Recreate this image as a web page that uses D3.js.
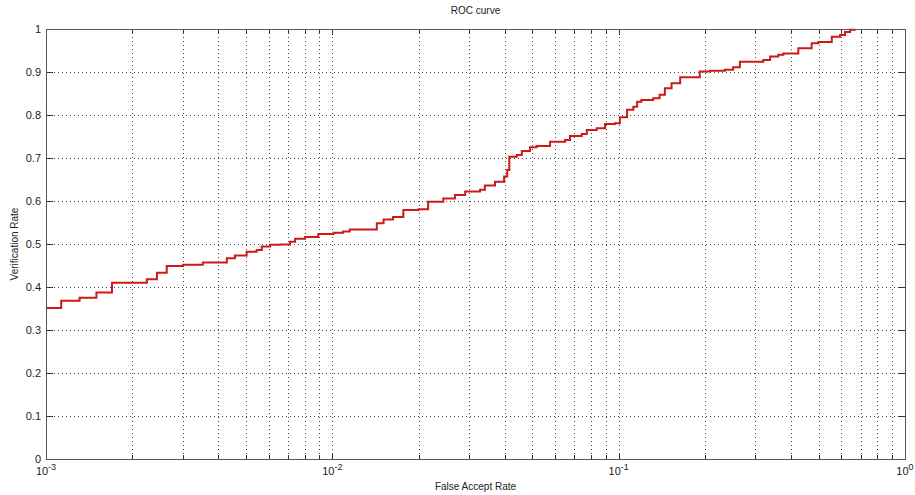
<!DOCTYPE html>
<html>
<head>
    <title>ROC curve</title>
    <script src="https://cdnjs.cloudflare.com/ajax/libs/d3/7.8.5/d3.min.js"></script>
    <style>
        body {
            background: #ffffff;
            margin: 0;
            overflow: hidden;
        }
        text {
            font-family: "Liberation Sans", Arial, sans-serif;
            fill: #222;
        }
        .grid line {
            stroke: #444;
            stroke-width: 1px;
            stroke-dasharray: 1,3;
        }
        .frame {
            fill: none;
            stroke: #555;
            stroke-width: 1px;
        }
        .tick-mark {
            stroke: #333;
            stroke-width: 1px;
        }
        .roc {
            fill: none;
            stroke: #cc1a1a;
            stroke-width: 2px;
        }
    </style>
</head>
<body>
    <svg id="chart"></svg>

    <script>
        // values
        const farValues = [0.001, 0.00113, 0.00131, 0.0015, 0.0017, 0.00225, 0.00244, 0.00264, 0.00301, 0.00353,
            0.00428, 0.00457, 0.00502, 0.00544, 0.00567, 0.00606, 0.00657, 0.00712, 0.00741, 0.00803,
            0.00893, 0.0101, 0.0109, 0.0115, 0.0143, 0.0151, 0.0163, 0.0177, 0.02, 0.0216,
            0.0244, 0.0268, 0.0291, 0.0328, 0.0341, 0.037, 0.0398, 0.0408, 0.0415, 0.0441,
            0.0459, 0.049, 0.0517, 0.0576, 0.065, 0.0676, 0.0743, 0.0774, 0.0838, 0.0896,
            0.0971, 0.101, 0.107, 0.1125, 0.116, 0.12, 0.132, 0.139, 0.145, 0.153,
            0.164, 0.192, 0.208, 0.235, 0.251, 0.265, 0.32, 0.338, 0.361, 0.376,
            0.424, 0.472, 0.498, 0.555, 0.593, 0.617, 0.643, 0.669];
        const verificationRates = [0.351, 0.368, 0.375, 0.387, 0.41, 0.418, 0.433, 0.449, 0.452, 0.457,
            0.467, 0.473, 0.482, 0.486, 0.494, 0.498, 0.499, 0.505, 0.512, 0.516,
            0.523, 0.526, 0.529, 0.534, 0.548, 0.557, 0.563, 0.579, 0.581, 0.598,
            0.606, 0.614, 0.622, 0.626, 0.636, 0.645, 0.657, 0.672, 0.703, 0.707,
            0.716, 0.725, 0.728, 0.738, 0.742, 0.751, 0.756, 0.765, 0.769, 0.779,
            0.781, 0.795, 0.812, 0.819, 0.831, 0.835, 0.839, 0.847, 0.862, 0.874,
            0.888, 0.901, 0.903, 0.905, 0.911, 0.924, 0.928, 0.936, 0.94, 0.943,
            0.955, 0.967, 0.97, 0.982, 0.986, 0.993, 0.998, 1.0];
        const xMajorTicks = [0.001, 0.01, 0.1, 1];
        const xExponents = ["-3", "-2", "-1", "0"];
        const yTicks = [0, 0.1, 0.2, 0.3, 0.4, 0.5, 0.6, 0.7, 0.8, 0.9, 1];
        const yTickLabels = ["0", "0.1", "0.2", "0.3", "0.4", "0.5", "0.6", "0.7", "0.8", "0.9", "1"];

        const width = 915, height = 495;
        const margin = {top: 29, right: 10, bottom: 36, left: 46};
        const innerW = width - margin.left - margin.right;
        const innerH = height - margin.top - margin.bottom;

        const svg = d3.select("#chart")
            .attr("width", width)
            .attr("height", height);

        const g = svg.append("g")
            .attr("transform", `translate(${margin.left},${margin.top})`);

        const x = d3.scaleLog().domain([0.001, 1]).range([0, innerW]);
        const y = d3.scaleLinear().domain([0, 1]).range([innerH, 0]);

        // minor + major positions on the log axis
        const xAllTicks = x.ticks();
        const xInner = xAllTicks.filter(t => t > 0.001 && t < 1);

        // grid
        const grid = g.append("g").attr("class", "grid");
        grid.selectAll(".vx")
            .data(xInner)
            .enter().append("line")
            .attr("x1", d => Math.round(x(d)) + 0.5)
            .attr("x2", d => Math.round(x(d)) + 0.5)
            .attr("y1", 0)
            .attr("y2", innerH);
        grid.selectAll(".hy")
            .data(yTicks.filter(t => t > 0 && t < 1))
            .enter().append("line")
            .attr("x1", 0)
            .attr("x2", innerW)
            .attr("y1", d => Math.round(y(d)) + 0.5)
            .attr("y2", d => Math.round(y(d)) + 0.5);

        // ticks (inside, on all four sides)
        const ticks = g.append("g");
        xAllTicks.forEach(t => {
            const px = Math.round(x(t)) + 0.5;
            const len = xMajorTicks.includes(t) ? 6 : 4;
            ticks.append("line").attr("class", "tick-mark")
                .attr("x1", px).attr("x2", px).attr("y1", innerH).attr("y2", innerH - len);
            ticks.append("line").attr("class", "tick-mark")
                .attr("x1", px).attr("x2", px).attr("y1", 0).attr("y2", len);
        });
        yTicks.forEach(t => {
            const py = Math.round(y(t)) + 0.5;
            ticks.append("line").attr("class", "tick-mark")
                .attr("x1", 0).attr("x2", 7).attr("y1", py).attr("y2", py);
            ticks.append("line").attr("class", "tick-mark")
                .attr("x1", innerW).attr("x2", innerW - 7).attr("y1", py).attr("y2", py);
        });

        // ROC line
        const data = farValues.map((f, i) => ({far: f, rate: verificationRates[i]}));
        const line = d3.line()
            .x(d => x(d.far))
            .y(d => y(d.rate))
            .curve(d3.curveStepAfter);
        g.append("path")
            .datum(data)
            .attr("class", "roc")
            .attr("d", line);

        // frame
        g.append("rect")
            .attr("class", "frame")
            .attr("x", 0.5).attr("y", 0.5)
            .attr("width", innerW).attr("height", innerH);

        // y labels
        g.selectAll(".ylab")
            .data(yTicks)
            .enter().append("text")
            .attr("x", -5)
            .attr("y", d => y(d))
            .attr("dy", "0.35em")
            .attr("text-anchor", "end")
            .style("font-size", "11px")
            .text((d, i) => yTickLabels[i]);

        // x labels with superscript exponent
        xMajorTicks.forEach((t, i) => {
            const lab = g.append("text")
                .attr("x", x(t))
                .attr("y", innerH + 16)
                .attr("text-anchor", "middle")
                .style("font-size", "11px");
            lab.append("tspan").text("10");
            lab.append("tspan")
                .attr("dy", -5)
                .style("font-size", "9px")
                .text(xExponents[i]);
        });

        // titles
        svg.append("text")
            .attr("x", margin.left + innerW / 2)
            .attr("y", 14)
            .attr("text-anchor", "middle")
            .style("font-size", "10px")
            .text("ROC curve");
        svg.append("text")
            .attr("x", margin.left + innerW / 2)
            .attr("y", 490)
            .attr("text-anchor", "middle")
            .style("font-size", "10px")
            .text("False Accept Rate");
        svg.append("text")
            .attr("transform", `translate(18,${margin.top + innerH / 2}) rotate(-90)`)
            .attr("text-anchor", "middle")
            .style("font-size", "10px")
            .text("Verification Rate");
    </script>
</body>
</html>
